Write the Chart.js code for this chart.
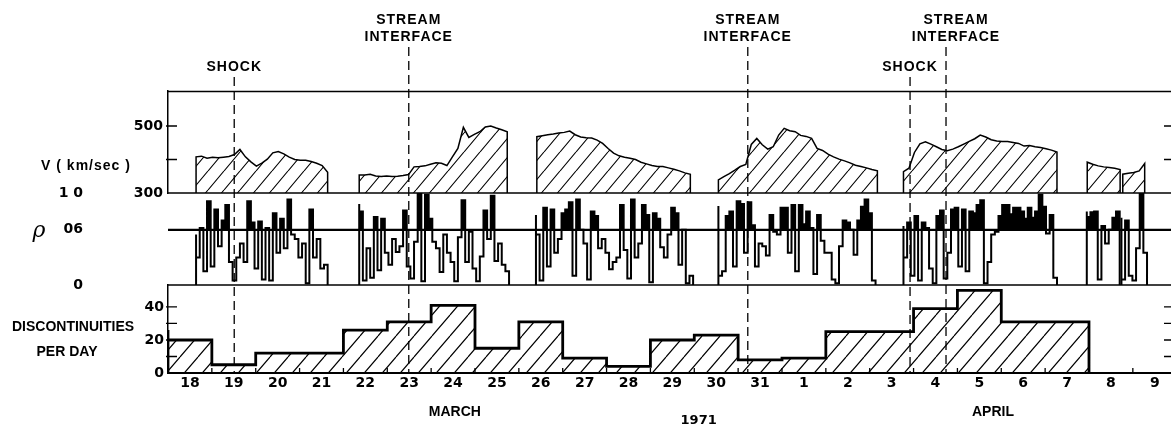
<!DOCTYPE html>
<html>
<head>
<meta charset="utf-8">
<script src="https://cdn.jsdelivr.net/npm/chart.js@4"></script>
<style>
  html, body { margin: 0; padding: 0; background: #fff; overflow: hidden; }
  canvas { display: block; }
</style>
</head>
<body>
<canvas id="grafico" width="1171" height="430"></canvas>
<script>
// dias (18 de marco = 0) e contagens por dia
const dayLabels = ['18','19','20','21','22','23','24','25','26','27','28','29','30','31','1','2','3','4','5','6','7','8','9'];
const discPerDay = [26, 20, 5, 12, 12, 26, 31, 41, 15, 31, 9, 4, 20, 23, 8, 9, 25, 25, 39, 50, 31];

// eventos (em dias desde 18 de marco 0h)
const eventDays = [1.51, 5.49, 13.22, 16.92, 17.74];
const eventNames = ['SHOCK', 'STREAM INTERFACE', 'STREAM INTERFACE', 'SHOCK', 'STREAM INTERFACE'];

// velocidade, uma amostra a cada 3 horas, por trecho de dados
const vStarts = [0.64, 4.36, 8.41, 12.55, 16.77, 20.96, 21.77];
const v1 = [408, 410, 404, 407, 405, 407, 409, 415, 430, 408, 393, 380, 389, 401, 420, 424, 417, 407, 400, 398, 398, 394, 389, 382, 362];
const v2 = [354, 354, 356, 351, 349, 351, 349, 350, 352, 355, 378, 379, 381, 386, 390, 389, 382, 408, 433, 496, 466, 475, 483, 497, 500, 494, 489, 483];
const v3 = [468, 471, 474, 476, 479, 481, 485, 474, 467, 465, 464, 458, 448, 433, 419, 411, 407, 404, 400, 392, 387, 382, 379, 379, 375, 371, 366, 360, 356];
const v4 = [339, 349, 358, 368, 379, 385, 445, 463, 444, 431, 438, 473, 493, 486, 483, 472, 469, 463, 433, 427, 416, 408, 401, 396, 390, 383, 379, 375, 370, 366];
const v5 = [364, 374, 421, 447, 453, 446, 438, 430, 426, 431, 438, 446, 454, 462, 473, 467, 459, 455, 454, 454, 451, 448, 440, 442, 438, 436, 432, 428, 422];
const v6 = [392, 386, 381, 378, 376, 374, 370];
const v7 = [356, 359, 361, 366, 388];

// densidade normalizada, uma amostra a cada 2 horas
const rhoStarts = [0.64, 4.36, 8.39, 12.55, 16.77, 20.95, 21.74];
const rho1 = [0.55, 0.30, 0.62, 0.15, 0.91, 0.20, 0.82, 0.42, 0.70, 0.87, 0.25, 0.05, 0.30, 0.45, 0.25, 0.91, 0.68, 0.18, 0.69, 0.06, 0.62, 0.05, 0.78, 0.35, 0.72, 0.40, 0.93, 0.55, 0.50, 0.30, 0.45, 0.02, 0.82, 0.30, 0.50, 0.18, 0.22];
const rho2 = [0.88, 0.80, 0.05, 0.40, 0.08, 0.74, 0.16, 0.72, 0.35, 0.22, 0.50, 0.36, 0.42, 0.81, 0.20, 0.07, 0.47, 1.00, 0.04, 0.98, 0.72, 0.47, 0.40, 0.14, 0.55, 0.35, 0.25, 0.04, 0.52, 0.92, 0.25, 0.58, 0.18, 0.04, 0.31, 0.81, 0.50, 0.97, 0.26, 0.45, 0.22, 0.15];
const rho3 = [0.76, 0.55, 0.05, 0.84, 0.20, 0.82, 0.35, 0.50, 0.78, 0.82, 0.90, 0.10, 0.93, 0.60, 0.45, 0.06, 0.80, 0.75, 0.40, 0.50, 0.35, 0.17, 0.25, 0.30, 0.87, 0.38, 0.07, 0.93, 0.30, 0.45, 0.87, 0.76, 0.03, 0.78, 0.72, 0.41, 0.30, 0.55, 0.84, 0.78, 0.22, 0.60, 0.02, 0.10];
const rho4 = [0.86, 0.10, 0.15, 0.75, 0.80, 0.20, 0.91, 0.88, 0.35, 0.90, 0.65, 0.20, 0.45, 0.42, 0.32, 0.76, 0.58, 0.55, 0.84, 0.84, 0.35, 0.87, 0.15, 0.87, 0.66, 0.80, 0.62, 0.12, 0.76, 0.48, 0.35, 0.35, 0.06, 0.02, 0.42, 0.70, 0.68, 0.60, 0.33, 0.70, 0.85, 0.93, 0.78, 0.05];
const rho5 = [0.64, 0.30, 0.68, 0.10, 0.75, 0.05, 0.68, 0.62, 0.18, 0.02, 0.75, 0.81, 0.07, 0.35, 0.82, 0.84, 0.20, 0.82, 0.15, 0.80, 0.78, 0.87, 0.92, 0.02, 0.25, 0.55, 0.58, 0.75, 0.87, 0.87, 0.77, 0.84, 0.84, 0.80, 0.72, 0.84, 0.73, 0.80, 0.98, 0.85, 0.56, 0.76, 0.08];
const rho6 = [0.80, 0.74, 0.79, 0.80, 0.06, 0.64, 0.45, 0.60, 0.73, 0.80];
const rho7 = [0.73, 0.06, 0.70, 0.10, 0.05, 0.40, 1.00, 0.35];

// eixos
const vTicks = [300, 400, 500];
const vTickText = ['300', '', '500'];
const rhoTicks = [0, 0.6, 1];
const rhoTickText = ['0', '06', '1 0'];
const discTicks = [0, 10, 20, 30, 40];
const discTickText = ['0', '', '20', '', '40'];

const letras = '"Liberation Sans", Arial, sans-serif';
const numeros = '"DejaVu Sans", sans-serif';

// padrao de hachura diagonal
function hachura(w, h, lw) {
    const c = document.createElement('canvas');
    c.width = w;
    c.height = h;
    const g = c.getContext('2d');
    g.strokeStyle = '#000';
    g.lineWidth = lw;
    g.beginPath();
    for (let k = -1; k <= 1; k++) {
        g.moveTo(k * w, h);
        g.lineTo(k * w + w, 0);
    }
    g.stroke();
    return g.createPattern(c, 'repeat');
}

function pontosV(inicio, vals) {
    const pts = [{x: inicio, y: 300}];
    vals.forEach((val, i) => pts.push({x: inicio + i * 0.125, y: val}));
    pts.push({x: inicio + (vals.length - 1) * 0.125, y: 300});
    return pts;
}

function pontosRho(inicio, vals) {
    const pts = [{x: inicio, y: 0}];
    vals.forEach((val, i) => pts.push({x: inicio + i / 12, y: val}));
    pts.push({x: inicio + (vals.length - 1) / 12, y: 0});
    return pts;
}

// sem folga extra dos rotulos nas bordas
function semFolga(ax) {
    ax.paddingTop = 0;
    ax.paddingBottom = 0;
    ax.paddingLeft = 0;
    ax.paddingRight = 0;
}

const hatchV = hachura(16, 19, 1.1);
const hatchD = hachura(18, 21, 1.2);

const datasets = [];
[v1, v2, v3, v4, v5, v6, v7].forEach((vals, i) => {
    datasets.push({
        data: pontosV(vStarts[i], vals),
        yAxisID: 'v',
        borderColor: '#000',
        borderWidth: 1.5,
        backgroundColor: hatchV,
        fill: 'start',
        pointRadius: 0,
        tension: 0
    });
});
[rho1, rho2, rho3, rho4, rho5, rho6, rho7].forEach((vals, i) => {
    datasets.push({
        data: pontosRho(rhoStarts[i], vals),
        yAxisID: 'rho',
        borderColor: '#000',
        borderWidth: 2,
        stepped: 'after',
        fill: {target: {value: 0.6}, above: '#000', below: 'rgba(0,0,0,0)'},
        pointRadius: 0
    });
});
const histPts = [{x: 0, y: 0}];
discPerDay.forEach((n, i) => histPts.push({x: i, y: n}));
histPts.push({x: discPerDay.length, y: discPerDay[discPerDay.length - 1]});
histPts.push({x: discPerDay.length, y: 0});
datasets.push({
    data: histPts,
    yAxisID: 'disc',
    borderColor: '#000',
    borderWidth: 2.8,
    backgroundColor: hatchD,
    stepped: 'after',
    fill: 'start',
    pointRadius: 0
});

// linhas do quadro, marcas, eventos e textos
const moldura = {
    id: 'moldura',
    afterDatasetsDraw(chart) {
        const {ctx, chartArea: a, scales} = chart;
        const sx = scales.x, sv = scales.v, sr = scales.rho, sd = scales.disc;
        ctx.save();
        ctx.strokeStyle = '#000';
        ctx.fillStyle = '#000';

        const linhaH = (y, w) => {
            ctx.lineWidth = w;
            ctx.beginPath();
            ctx.moveTo(a.left, y);
            ctx.lineTo(a.right, y);
            ctx.stroke();
        };
        linhaH(a.top + 0.5, 1.4);
        linhaH(sv.getPixelForValue(300), 1.5);
        linhaH(sr.getPixelForValue(0.6), 2.2);
        linhaH(sr.getPixelForValue(0), 1.5);

        // marcas para dentro, dos dois lados
        ctx.lineWidth = 1.3;
        const marcas = [[sv, [400, 500]], [sd, [10, 20, 30, 40]]];
        marcas.forEach(([s, vals]) => {
            vals.forEach(val => {
                const y = s.getPixelForValue(val);
                ctx.beginPath();
                ctx.moveTo(a.left - 2, y);
                ctx.lineTo(a.left + 9, y);
                ctx.moveTo(a.right - 7, y);
                ctx.lineTo(a.right, y);
                ctx.stroke();
            });
        });

        // marcas nos limites dos dias
        for (let d = 1; d < sx.max; d++) {
            const x = sx.getPixelForValue(d);
            ctx.beginPath();
            ctx.moveTo(x, a.bottom);
            ctx.lineTo(x, a.bottom - 5);
            ctx.stroke();
        }

        // linhas tracejadas dos eventos
        const desloc = [0, 0, 0, 0, 10];
        ctx.textAlign = 'center';
        ctx.textBaseline = 'middle';
        ctx.font = 'bold 14px ' + letras;
        ctx.letterSpacing = '1px';
        eventDays.forEach((d, i) => {
            const x = sx.getPixelForValue(d);
            const partes = eventNames[i].split(' ');
            let topo;
            if (partes.length > 1) {
                ctx.fillText(partes[0], x + desloc[i], 20);
                ctx.fillText(partes[1], x + desloc[i], 37);
                topo = 47;
            } else {
                ctx.fillText(partes[0], x + desloc[i], 67);
                topo = 77;
            }
            ctx.lineWidth = 1.3;
            ctx.setLineDash([9, 5]);
            ctx.beginPath();
            ctx.moveTo(x, topo);
            ctx.lineTo(x, a.bottom);
            ctx.stroke();
            ctx.setLineDash([]);
        });

        // titulos laterais e meses
        ctx.fillText('V ( km/sec )', 86, 166);
        ctx.letterSpacing = '0px';
        ctx.fillText('DISCONTINUITIES', 73, 327);
        ctx.fillText('PER DAY', 67, 352);
        ctx.fillText('MARCH', sx.getPixelForValue(6.54), 412);
        ctx.fillText('APRIL', sx.getPixelForValue(18.81), 412);
        ctx.font = 'bold 13px ' + numeros;
        ctx.fillText('1971', sx.getPixelForValue(12.1), 421);
        ctx.font = 'italic 22px "DejaVu Serif", serif';
        ctx.textBaseline = 'alphabetic';
        ctx.fillText('\u03C1', 39, 237);
        ctx.restore();
    }
};

const fonteNum = {family: numeros, size: 14, weight: 'bold'};

new Chart(document.getElementById('grafico'), {
    type: 'line',
    data: {datasets: datasets},
    options: {
        responsive: false,
        animation: false,
        events: [],
        layout: {padding: {top: 91, left: 0, right: 0, bottom: 0}},
        plugins: {legend: {display: false}, tooltip: {enabled: false}},
        scales: {
            x: {
                type: 'linear',
                min: 0,
                max: 22.87,
                grid: {display: false, drawTicks: false},
                border: {display: true, color: '#000', width: 2},
                afterBuildTicks: ax => { ax.ticks = dayLabels.map((d, i) => ({value: i + 0.5})); },
                afterFit: ax => { ax.height = 57; semFolga(ax); },
                ticks: {
                    autoSkip: false, maxRotation: 0, padding: 2, color: '#000', font: fonteNum,
                    callback: (val, i) => dayLabels[i]
                }
            },
            v: {
                type: 'linear', position: 'left', stack: 'paineis', stackWeight: 102, weight: 3,
                min: 300, max: 604.5,
                grid: {display: false, drawTicks: false},
                border: {display: true, color: '#000', width: 1.5},
                afterBuildTicks: ax => { ax.ticks = vTicks.map(v => ({value: v})); },
                afterFit: ax => { ax.width = 168; semFolga(ax); },
                ticks: {padding: 5, color: '#000', font: fonteNum, callback: (val, i) => vTickText[i]}
            },
            rho: {
                type: 'linear', position: 'left', stack: 'paineis', stackWeight: 92, weight: 2,
                min: 0, max: 1,
                grid: {display: false, drawTicks: false},
                border: {display: false},
                afterBuildTicks: ax => { ax.ticks = rhoTicks.map(v => ({value: v})); },
                afterFit: ax => { ax.width = 168; semFolga(ax); },
                ticks: {padding: 85, color: '#000', font: fonteNum, callback: (val, i) => rhoTickText[i]}
            },
            disc: {
                type: 'linear', position: 'left', stack: 'paineis', stackWeight: 88, weight: 1,
                min: 0, max: 53.3,
                grid: {display: false, drawTicks: false},
                border: {display: true, color: '#000', width: 1.5},
                afterBuildTicks: ax => { ax.ticks = discTicks.map(v => ({value: v})); },
                afterFit: ax => { ax.width = 168; semFolga(ax); },
                ticks: {padding: 4, color: '#000', font: fonteNum, callback: (val, i) => discTickText[i]}
            }
        }
    },
    plugins: [moldura]
});
</script>
</body>
</html>
